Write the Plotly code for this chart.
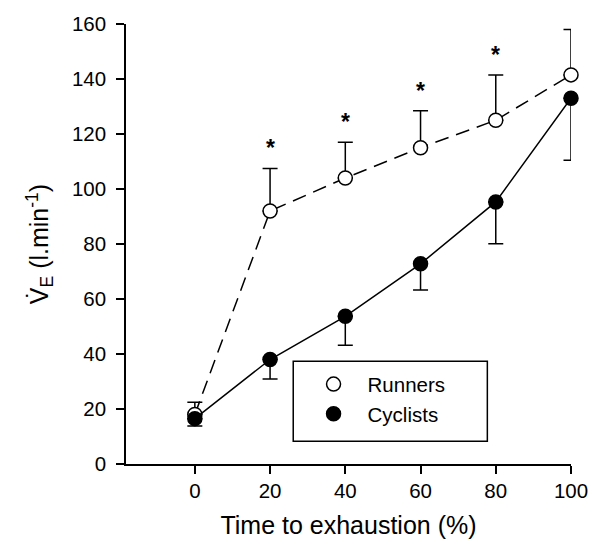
import plotly.graph_objects as go

time_pct = [0, 20, 40, 60, 80, 100]
runners_ve = [18, 92, 104, 115, 125, 141.5]
runners_err_up = [4.5, 15.5, 13, 13.5, 16.5, 16.5]
cyclists_ve = [16.5, 38, 53.7, 72.8, 95.3, 133]
cyclists_err_down = [2.7, 7.1, 10.5, 9.5, 15.2, 22.5]
signif_idx = [1, 2, 3, 4]  # indices marked with *

x_ticks = [0, 20, 40, 60, 80, 100]
y_ticks = [0, 20, 40, 60, 80, 100, 120, 140, 160]

FONT = "Liberation Sans, Arial, sans-serif"

fig = go.Figure()

# Runners line (dashed)
fig.add_trace(go.Scatter(
    x=time_pct, y=runners_ve, mode="lines",
    line=dict(color="black", width=1.5, dash="14px,8px"),
    showlegend=False, hoverinfo="skip", cliponaxis=False,
))
# Runners markers + upward error bars
fig.add_trace(go.Scatter(
    x=time_pct, y=runners_ve, mode="markers", name="Runners",
    marker=dict(symbol="circle", size=14, color="white",
                line=dict(color="black", width=1.5)),
    error_y=dict(type="data", symmetric=False, array=runners_err_up,
                 arrayminus=[0] * len(time_pct), color="black",
                 thickness=1.5, width=7.5),
    cliponaxis=False,
))
# Cyclists line (solid)
fig.add_trace(go.Scatter(
    x=time_pct, y=cyclists_ve, mode="lines",
    line=dict(color="black", width=1.5),
    showlegend=False, hoverinfo="skip", cliponaxis=False,
))
# Cyclists markers + downward error bars
fig.add_trace(go.Scatter(
    x=time_pct, y=cyclists_ve, mode="markers", name="Cyclists",
    marker=dict(symbol="circle", size=14, color="black",
                line=dict(color="black", width=1.5)),
    error_y=dict(type="data", symmetric=False, array=[0] * len(time_pct),
                 arrayminus=cyclists_err_down, color="black",
                 thickness=1.5, width=7.5),
    cliponaxis=False,
))

# Significance stars
for i in signif_idx:
    fig.add_annotation(
        x=time_pct[i], y=runners_ve[i] + runners_err_up[i],
        text="<b>*</b>", showarrow=False, yshift=20,
        font=dict(family=FONT, size=23, color="black"),
    )

# Legend box
fig.add_shape(type="rect", xref="paper", yref="paper",
              x0=0.3758, x1=0.812, y0=0.0517, y1=0.2337,
              line=dict(color="black", width=1.5), fillcolor="rgba(0,0,0,0)")

fig.update_layout(
    width=600, height=551,
    margin=dict(l=126, r=27, t=19, b=87),
    paper_bgcolor="white", plot_bgcolor="white",
    font=dict(family=FONT, size=20, color="black"),
    showlegend=True,
    legend=dict(x=0.390, y=0.2266, xanchor="left", yanchor="top",
                bgcolor="rgba(0,0,0,0)", borderwidth=0, itemwidth=58,
                font=dict(family=FONT, size=20.5, color="black"),
                tracegroupgap=0),
    xaxis=dict(range=[-18.3, 100], tickmode="array", tickvals=x_ticks,
               showline=True, linecolor="black", linewidth=1.5,
               ticks="outside", ticklen=8, tickwidth=1.5, tickcolor="black",
               showgrid=False, zeroline=False,
               tickfont=dict(family=FONT, size=20.5, color="black"),
               title=dict(text="Time to exhaustion (%)", standoff=15,
                          font=dict(family=FONT, size=25, color="black"))),
    yaxis=dict(range=[0, 160], tickmode="array", tickvals=y_ticks,
               showline=True, linecolor="black", linewidth=1.5,
               ticks="outside", ticklen=8, tickwidth=1.5, tickcolor="black",
               showgrid=False, zeroline=False, ticklabelstandoff=6,
               tickfont=dict(family=FONT, size=20.5, color="black"),
               title=dict(text="V\u0307<sub>E</sub> (l.min<sup>-1</sup>)", standoff=16,
                          font=dict(family=FONT, size=25, color="black"))),
)

fig.write_html("out.html")
